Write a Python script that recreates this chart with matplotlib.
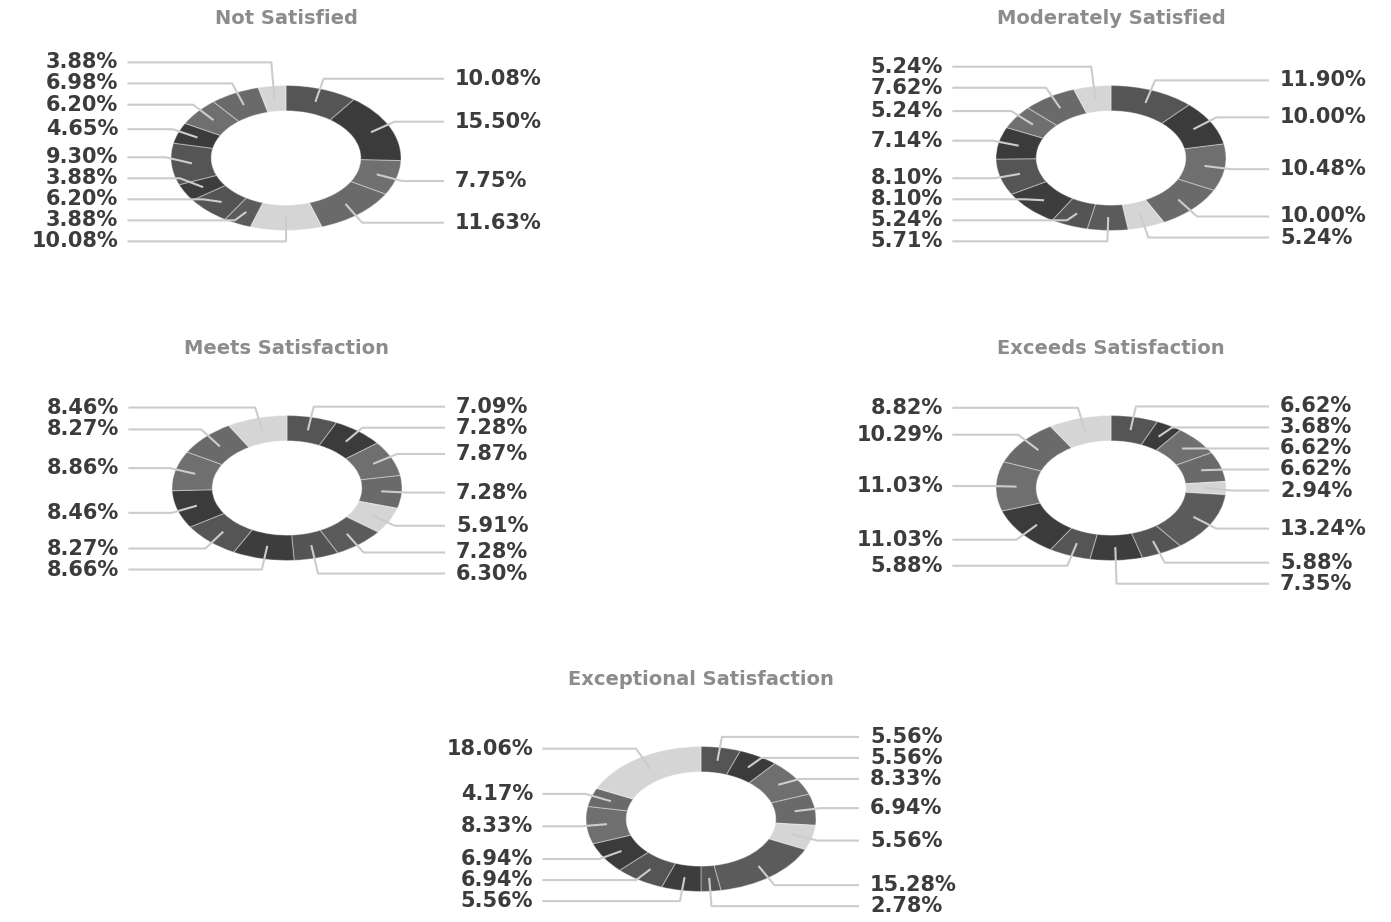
import numpy as np
import matplotlib.pyplot as plt

# Share of responses per category for each satisfaction level (clockwise from 12 o'clock)
not_satisfied = [10.08, 15.50, 7.75, 11.63, 10.08, 3.88, 6.20, 3.88, 9.30, 4.65, 6.20, 6.98, 3.88]
moderately_satisfied = [11.90, 10.00, 10.48, 10.00, 5.24, 5.71, 5.24, 8.10, 8.10, 7.14, 5.24, 7.62, 5.24]
meets_satisfaction = [7.09, 7.28, 7.87, 7.28, 5.91, 7.28, 6.30, 8.66, 8.27, 8.46, 8.86, 8.27, 8.46]
exceeds_satisfaction = [6.62, 3.68, 6.62, 6.62, 2.94, 13.24, 5.88, 7.35, 5.88, 11.03, 11.03, 10.29, 8.82]
exceptional_satisfaction = [5.56, 5.56, 8.33, 6.94, 5.56, 15.28, 2.78, 5.56, 6.94, 6.94, 8.33, 4.17, 18.06]

titles = ["Not Satisfied", "Moderately Satisfied", "Meets Satisfaction",
          "Exceeds Satisfaction", "Exceptional Satisfaction"]
series = [not_satisfied, moderately_satisfied, meets_satisfaction,
          exceeds_satisfaction, exceptional_satisfaction]

# gray palette, repeats every 8 slices
palette = ['#555555', '#3b3b3b', '#6f6f6f', '#6a6a6a', '#d5d5d5', '#5b5b5b', '#545454', '#3d3d3d']

W, H = 1391, 922
RX, RY = 115.0, 72.5   # pixel size of one data unit in x and y (donuts are stretched)
XL, YL = 1.5, 1.4      # half extents of each axes in data units

# donut centres in pixels
centres = [(286, 158), (1111, 158), (287, 488), (1111, 488), (701, 819)]

LINE_C = '#cccccc'
TEXT_C = '#3c3c3c'
GAP = 0.29  # minimum vertical distance between two labels


def donut(ax, vals, title):
    cols = [palette[i % len(palette)] for i in range(len(vals))]
    ax.pie(vals, colors=cols, startangle=90, counterclock=False, radius=1.0,
           wedgeprops=dict(width=0.35, edgecolor=(1, 1, 1, 0.35), linewidth=0.8))
    ax.set_aspect('auto')
    ax.set_xlim(-XL, XL)
    ax.set_ylim(-YL, YL)
    ax.axis('off')

    vals = np.asarray(vals, dtype=float)
    cum = np.cumsum(vals) - vals / 2
    theta = np.deg2rad(cum / vals.sum() * 360.0)
    right = np.sin(theta) > 0.01
    label_y = 1.15 * np.cos(theta)

    # labels follow slice order: right side pushed downwards,
    # left side (bottom to top) pushed upwards
    prev_r, prev_l = None, None
    for i in range(len(vals)):
        if right[i]:
            if prev_r is not None and label_y[i] > prev_r - GAP:
                label_y[i] = prev_r - GAP
            prev_r = label_y[i]
        else:
            if prev_l is not None and label_y[i] < prev_l + GAP:
                label_y[i] = prev_l + GAP
            prev_l = label_y[i]

    for i, v in enumerate(vals):
        t = theta[i]
        x0, y0 = 0.83 * np.sin(t), 0.83 * np.cos(t)
        xk = 1.05 * np.sin(t)
        ly = label_y[i]
        if right[i]:
            xe, xt, ha = 1.365, 1.47, 'left'
        else:
            xe, xt, ha = -1.37, -1.46, 'right'
        ax.plot([x0, xk, xe], [y0, ly, ly], color=LINE_C, lw=1.5,
                clip_on=False, zorder=3, solid_joinstyle='round')
        ax.text(xt, ly, "%.2f%%" % v, ha=ha, va='center', fontsize=15,
                fontweight='bold', color=TEXT_C)

    ax.text(0, 1.92, title, ha='center', va='center', fontsize=14,
            fontweight='bold', color='#8c8c8c')


fig = plt.figure(figsize=(W / 100, H / 100), dpi=100)
fig.patch.set_facecolor('white')

for (cx, cy), vals, title in zip(centres, series, titles):
    w = 2 * XL * RX
    h = 2 * YL * RY
    rect = [(cx - XL * RX) / W, (H - cy - YL * RY) / H, w / W, h / H]
    ax = fig.add_axes(rect)
    donut(ax, vals, title)

fig.savefig("out.png", dpi=100, facecolor='white')
